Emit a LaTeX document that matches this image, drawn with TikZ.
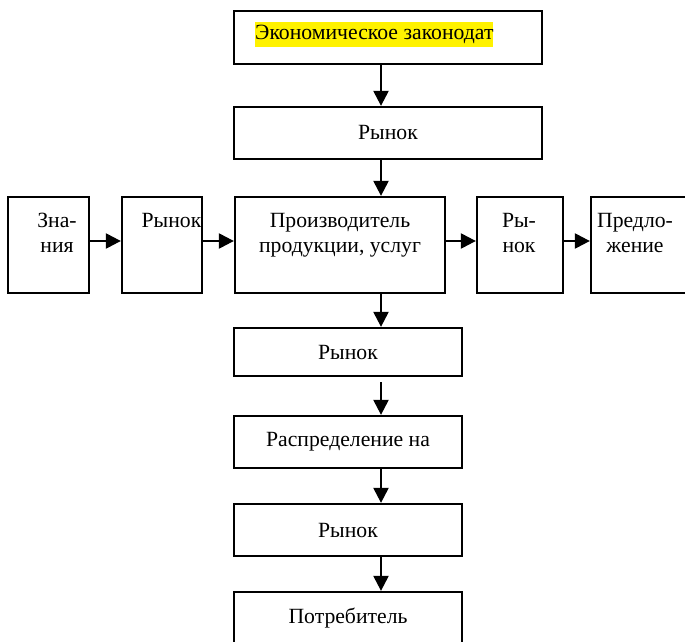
\documentclass[tikz,border=0pt]{standalone}
\usepackage{fontspec}
\setmainfont{Liberation Serif}
\usetikzlibrary{positioning,arrows.meta}
\begin{document}
\begin{tikzpicture}[x=1pt,y=-1pt,
                    box/.style={draw,line width=2.3pt,inner sep=0pt,font=\fontsize{21.7}{25}\selectfont},
                    txt/.style={inner sep=0pt,align=center,font=\fontsize{21.7}{25}\selectfont},
                    arr/.style={line width=2.3pt,-{Triangle[length=15pt,width=15pt]}}]
                    \useasboundingbox (0,0) rectangle (685,642);
                    \clip (0,0) rectangle (685,642);
                    \coordinate (axis) at (381,0);
                    \coordinate (row) at (0,241);
                    % top chain
                    \node[box,minimum width=308pt,minimum height=53pt] (econ) at (388,37.5) {};
                    \node[txt,fill=yellow,anchor=west,text height=17.5pt,text depth=6.5pt,inner ysep=0.5pt] (econtxt) at (255,34.5) {Экономическое законодат};
                    \node[box,minimum width=308pt,minimum height=52pt] (rynokA) at (388,133) {Рынок};
                    % middle row
                    \node[box,minimum width=81pt,minimum height=96pt] (znania) at (48.5,245) {};
                    \node[box,minimum width=80pt,minimum height=96pt] (rynokB) at (162,245) {};
                    \node[box,minimum width=210pt,minimum height=96pt] (prod) at (340,245) {};
                    \node[box,minimum width=86pt,minimum height=96pt] (rynokC) at (520,245) {};
                    \node[box,minimum width=100pt,minimum height=96pt] (predl) at (641,245) {};
                    \node[txt,anchor=north] (znaniatxt) at (57,213) {Зна-\\ния};
                    \node[txt,anchor=north] (rynokBtxt) at (171.5,213) {Рынок};
                    \node[txt,anchor=north] (prodtxt) at (340,213) {Производитель\\продукции, услуг};
                    \node[txt,anchor=north] (rynokCtxt) at (519,213) {Ры-\\нок};
                    \node[txt,anchor=north] (predltxt) at (635,213) {Предло-\\жение};
                    % bottom chain
                    \node[box,minimum width=228pt,minimum height=48pt] (rynokD) at (348,352) {Рынок};
                    \node[box,minimum width=228pt,minimum height=52pt] (raspr) at (348,442) {Распределение на};
                    \node[box,minimum width=228pt,minimum height=52pt] (rynokE) at (348,530) {Рынок};
                    \node[box,minimum width=228pt,minimum height=52pt] (potreb) at (348,618) {Потребитель};
                    % arrows
                    \draw[arr] (econ.south -| axis) -- (rynokA.north -| axis);
                    \draw[arr] (rynokA.south -| axis) -- (prod.north -| axis);
                    \draw[arr] (znania.east |- row) -- (rynokB.west |- row);
                    \draw[arr] (rynokB.east |- row) -- (prod.west |- row);
                    \draw[arr] (prod.east |- row) -- (rynokC.west |- row);
                    \draw[arr] (rynokC.east |- row) -- (predl.west |- row);
                    \draw[arr] (prod.south -| axis) -- (rynokD.north -| axis);
                    \draw[arr,shorten <=5pt] (rynokD.south -| axis) -- (raspr.north -| axis);
                    \draw[arr] (raspr.south -| axis) -- (rynokE.north -| axis);
                    \draw[arr] (rynokE.south -| axis) -- (potreb.north -| axis);
                \end{tikzpicture}
\end{document}
